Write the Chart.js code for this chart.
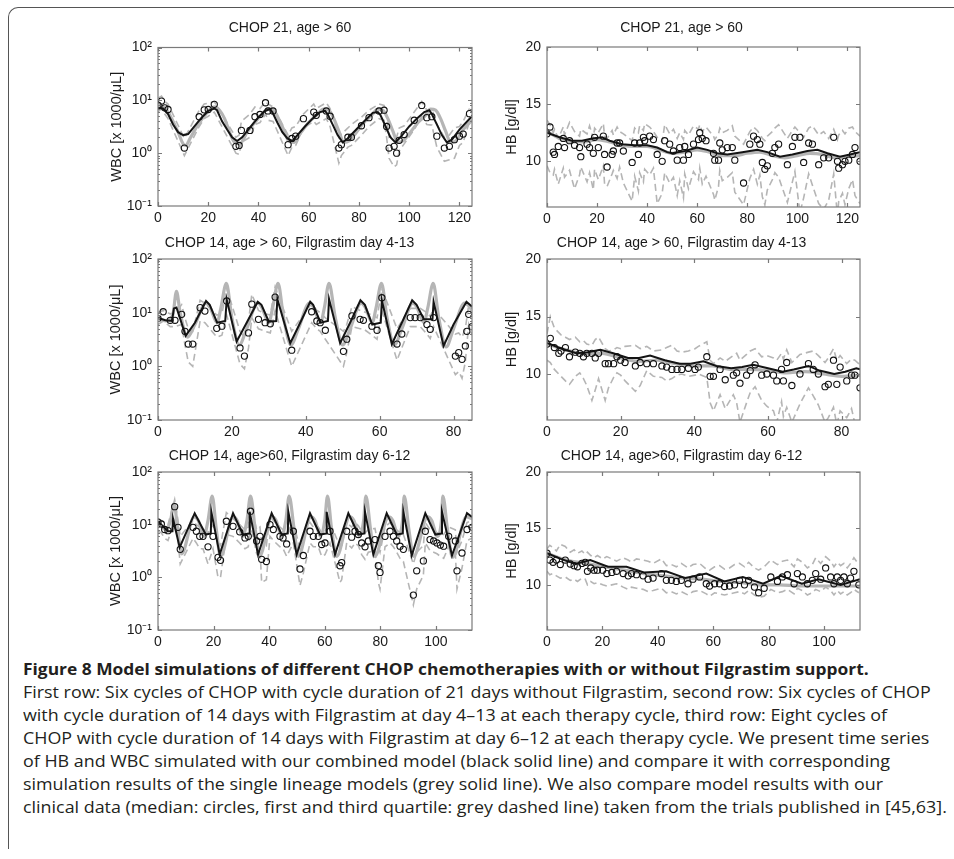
<!DOCTYPE html>
<html>
<head>
<meta charset="utf-8">
<script src="https://cdn.jsdelivr.net/npm/chart.js@4"></script>
<style>
  body { margin: 0; background: #fff; }
  #page { position: relative; width: 954px; height: 859px; overflow: hidden; background: #fff; }
  #frame { position: absolute; left: 8px; top: 7px; width: 1000px; height: 841px;
           border-left: 1.5px solid #555; border-top: 1.5px solid #555; border-top-left-radius: 10px; }
  canvas { position: absolute; }
  .cap { position: absolute; left: 23px; white-space: nowrap; font-family: "Open Sans", sans-serif;
         font-size: 16px; line-height: 20px; color: #231f20; transform-origin: 0 50%; }
  .cap.bold { font-weight: 700; }
</style>
</head>
<body>
<div id="page">
  <div id="frame"></div>
  <div class="cap bold" id="capTitle" style="top:659px">Figure 8 Model simulations of different CHOP chemotherapies with or without Filgrastim support.</div>
  <div class="cap" id="capFirst" style="top:682px">First row: Six cycles of CHOP with cycle duration of 21 days without Filgrastim, second row: Six cycles of CHOP</div>
  <div class="cap" style="top:705px">with cycle duration of 14 days with Filgrastim at day 4–13 at each therapy cycle, third row: Eight cycles of</div>
  <div class="cap" style="top:728px">CHOP with cycle duration of 14 days with Filgrastim at day 6–12 at each therapy cycle. We present time series</div>
  <div class="cap" style="top:751px">of HB and WBC simulated with our combined model (black solid line) and compare it with corresponding</div>
  <div class="cap" style="top:774px">simulation results of the single lineage models (grey solid line). We also compare model results with our</div>
  <div class="cap" id="capLast" style="top:797px">clinical data (median: circles, first and third quartile: grey dashed line) taken from the trials published in [45,63].</div>
</div>
<script>
// ---- Row 1 left: WBC, CHOP 21 ----
const aDays = [0,1.4,2.7,4,10.5,16.4,18.4,20,22.4,31,32.3,33.2,36.6,38.6,40.6,42.8,43.8,45.8,51.8,53.3,54.8,57.9,62,63,67,68.5,72,73,75.6,77,81,84,88,90,91,92,94,95,96,98,102,105,107,109,111,114,116,118,120,121.5,124];
const aMedian = [8.1,9.7,7.2,6.7,1.25,4.9,6.6,6.7,8.4,1.35,1.4,2.7,2.7,4.9,5.4,9.0,6.3,6.3,1.45,1.9,2.1,4.5,6.0,5.2,6.3,5.0,1.25,1.45,2.0,2.0,3.3,4.7,6.3,6.5,3.2,1.25,1.35,1.0,1.75,2.25,4.2,8.0,4.7,4.9,2.1,1.25,1.35,1.8,2.1,2.3,5.6];
const aQ3 = [11,12,9.5,8.5,1.9,6.5,8.5,8.8,9.5,2.0,2.2,4.0,5.5,7.5,7.0,9.5,8.5,7.5,2.2,3.0,3.2,5.5,8.5,7.0,9.0,7.0,2.0,2.3,3.0,3.5,4.8,6.5,8.5,8.0,5.0,2.0,2.2,2.0,3.0,3.3,6.0,9.5,6.5,7.0,3.5,2.0,2.2,3.0,3.2,4.0,7.0];
const aQ1 = [6.0,7.0,5.5,4.5,0.9,3.2,4.5,5.0,6.0,1.0,0.95,1.6,2.0,3.5,3.8,5.5,4.2,4.0,0.9,1.3,1.4,3.0,4.0,3.5,4.5,3.2,0.65,0.9,1.3,1.4,2.2,3.2,4.5,4.2,2.0,0.8,0.55,0.6,1.1,1.5,2.8,5.0,3.5,3.4,1.3,0.7,0.75,0.8,1.4,1.6,4.0];
const aModelDays = [0,2,4,6,8,10,12,14,17,20,22.4,23.5,25.5,27.5,29.5,31.5,33.5,36.5,39.5,42.5,44.5,45.5,47.5,49.5,51.5,53.5,55.5,58.5,61.5,64.5,66.5,67.5,69.5,71.5,73.5,75.5,79.5,82.5,85.5,87.5,88.5,90.5,92.5,94.5,96.5,100,103,106,108,109,111,113,115,117,120,125];
const aCombined = [7.2,7.0,5.5,3.5,2.5,2.2,2.3,3.0,4.5,6.3,7.0,6.5,4.0,2.8,2.0,1.7,2.0,3.0,4.5,6.3,6.8,6.0,3.8,2.5,1.9,1.7,2.2,3.2,4.5,6.0,6.3,5.5,3.5,2.2,1.6,1.9,3.0,4.2,5.8,6.0,5.3,3.3,2.0,1.6,2.0,3.2,4.5,6.0,6.5,5.5,3.5,2.2,1.6,1.8,2.8,5.0];
const aSingleDays = [0,2,4,6,8,10,11,13,16,19,22.5,24.5,26.5,28.5,30.5,32.5,35.5,38.5,41.5,44,46,48,50,52,54,57,60,63,66,68,70,72,74,76,79,82,85,87.5,89.5,91.5,93.5,95.5,97.5,100.5,103.5,106.5,108.5,110.5,112.5,114.5,116.5,118.5,121,125];
const aSingle = [8.0,7.5,6.0,4.0,2.5,1.5,1.4,2.0,3.5,5.5,7.5,6.5,4.5,2.5,1.6,1.5,2.5,3.8,5.5,7.0,6.5,4.5,2.8,1.7,1.6,2.5,3.8,5.2,6.8,6.5,4.5,2.6,1.6,1.7,2.5,3.8,5.2,6.8,6.5,4.5,2.6,1.6,1.7,2.5,3.8,5.2,6.8,6.5,4.5,2.6,1.6,1.7,2.6,4.2];

// ---- Row 1 right: HB, CHOP 21 ----
const bDays = [0,1.2,2.5,3,4.5,6.5,7,9,11,13,13.5,16,17,18.5,19,20.5,22.5,23,24,26,26.5,28,29,30.5,34,35,36.5,37,38.5,39,41,42.5,44,46,47,49,50.5,52,53,54.5,55,56.5,58.5,60.5,61,62,63.5,66.5,67,68.5,69,70,72,74,75,78.5,81,82.5,84,85,86,87,88,90,91,92.5,96,98,99,101,102.5,104.5,106,108.5,110.5,112.5,114.5,116,116.5,118,119,120.5,122,123,125];
const bMedian = [12.4,13.0,10.8,10.6,11.3,12.0,11.2,11.8,11.4,11.2,10.4,11.5,11.2,10.7,12.1,11.2,12.2,10.6,9.5,10.6,10.9,11.6,11.6,10.9,9.9,11.6,10.6,11.6,12.1,11.8,12.2,11.9,10.6,10.0,11.8,11.5,10.9,10.1,11.2,10.1,11.3,10.6,11.5,11.9,12.5,12.0,11.8,10.7,10.1,10.1,11.6,11.0,11.2,11.2,10.1,8.1,11.5,12.2,11.9,11.5,9.9,9.3,9.6,10.7,11.2,11.5,9.7,11.3,12.1,12.1,9.9,11.6,11.5,9.7,10.3,10.3,12.1,10.0,9.4,9.7,10.0,10.1,10.6,11.2,10.0];
const bQ3 = [13.6,13.2,12.5,12.8,12.0,13.0,12.3,13.4,12.6,12.2,12.8,12.4,13.1,12.0,12.9,12.5,13.3,12.2,12.0,12.7,12.3,13.0,12.6,12.4,11.8,12.9,12.5,13.1,12.7,13.3,13.0,12.6,12.1,11.7,13.2,12.4,12.8,12.0,12.5,11.9,12.7,12.3,13.1,12.8,13.2,12.6,13.0,12.2,11.9,12.4,12.9,12.5,12.7,13.1,12.2,11.5,12.6,13.0,12.7,12.4,12.0,11.8,12.2,12.6,12.9,13.2,12.0,12.7,13.0,12.5,12.1,12.9,13.1,12.3,12.6,12.0,12.8,11.9,12.3,12.7,12.4,12.9,13.0,12.6,12.2];
const bQ1 = [9.6,9.0,8.8,9.3,8.0,9.4,8.6,9.2,7.6,8.8,9.5,8.2,9.0,7.5,9.3,8.4,9.6,8.0,7.8,8.9,9.2,8.5,9.5,8.1,6.5,8.7,7.4,9.0,8.2,9.3,8.8,9.4,6.3,7.2,9.0,8.1,8.6,7.0,8.3,6.8,8.9,7.6,9.1,8.4,9.4,8.0,8.7,7.1,6.6,7.8,9.2,8.3,8.6,9.0,7.3,6.2,8.5,9.3,8.0,8.8,6.9,6.2,7.5,8.4,9.0,8.6,6.4,8.2,9.1,5.5,6.8,8.9,7.9,6.3,5.8,6.6,8.9,5.2,6.5,7.2,6.2,7.6,8.4,7.0,6.3];
const bModelDays = [0,5,10,14,18,22,25,30,35,40,44,48,50,55,60,64,68,72,78,84,88,93,98,104,108,112,117,121,125];
const bCombined = [12.5,12.1,11.8,11.8,12.0,12.1,11.8,11.5,11.4,11.4,11.2,10.8,10.7,10.9,11.2,11.0,10.7,10.6,10.8,11.0,10.8,10.4,10.6,10.9,11.0,10.7,10.4,10.6,10.8];
const bSingleDays = [0,5,10,15,20,25,30,35,40,45,50,55,60,65,70,75,80,85,90,95,100,105,110,115,120,125];
const bSingle = [12.6,12.0,11.7,11.7,11.9,11.7,11.4,11.3,11.3,11.0,10.7,10.8,11.0,10.8,10.5,10.5,10.7,10.8,10.5,10.3,10.5,10.7,10.6,10.3,10.4,10.5];

// ---- Row 2 left: WBC, CHOP 14, Filgrastim day 4-13 ----
const cDays = [0,1.4,3.3,4.6,6.4,7.3,8.2,9.4,11.4,12.7,15.9,17.3,18.6,22.2,23.4,24.5,25.4,27.2,29,30.4,31.7,36.2,41.6,43,43.9,45.3,50.2,51.1,52.5,54.7,55.6,57.9,59.3,60.6,64.7,66,68.3,69.6,71,72.8,73.7,74.6,80.5,81.4,82.3,83.2,83.6,84.1,85];
const cMedian = [7.8,10.4,7.2,7.2,9.3,4.5,2.6,2.6,12.4,10.7,5.1,5.6,16.5,2.2,1.55,4.2,14.4,7.5,6.5,6.2,19.5,2.0,10.4,7.0,6.5,4.7,1.9,3.2,8.7,7.5,7.2,5.6,4.7,19,2.6,4.0,8.1,8.1,8.1,6.0,4.9,8.1,1.55,1.8,1.35,2.4,4.5,9.3,5.5];
const cQ3 = [10,11,9.5,10,14,8,5,4.5,17,15,9,9.5,28,4.5,3.5,7,22,11,9.5,9,30,4.5,15,11,10,8,4.5,6,13,11,10.5,9,8,28,5,7,12,12,12,10,8.5,12,4,4.2,3.5,5,8,14,9];
const cQ1 = [6,7,5.5,5.5,6,2.5,1.2,1.0,7,6.5,3.5,3.8,9,1.1,0.9,2.2,8,5,4.5,4.2,11,1.0,6.5,5,4.5,3.2,1.0,1.8,5.5,5,5,3.8,3.2,11,1.3,2.2,5.5,5.5,5.5,4,3.3,5.5,0.7,0.8,0.6,1.2,2.5,6,3.8];
const cModelDays = [0,2,3.8,4.3,5,7.5,10,13,14,16,18.2,18.6,21.3,24,27,28,30,32,32.3,35.8,38.5,41.2,42,44,46,46.3,49.3,52,54.8,56,58,60.3,60.6,63.3,66,68.8,70,72,74.3,74.6,77.3,80,83.5,85];
const cCombined = [8,7.2,7.0,12,12.5,3.7,6.5,16.5,14,6.5,7,17.5,2.9,6.5,16,14,6.8,7,18,2.7,6.5,16,14,6.5,7,18,2.7,6.5,17,14,6,6.5,17,2.6,6.5,17,14,7.5,7.5,16,2.4,6,16,13];
const cSingleDays = [0,2,4,5,6,8,10,13,14,16,17,18.5,20,22,24,27,28,30,31,32.5,34,36,38,41,42,44,45,46.3,48,50,52,55,56,58,59,60.5,62,64,66,69,70,72,73,74.5,76,78,80,83,85];
const cSingle = [8,7,9,25,10,3.5,6,15,13,6.5,12,35,8,2.5,5,15,13,6.5,12,35,8,2.5,5,15,13,6.5,12,35,8,2.5,5,15,13,6.5,12,35,8,2.5,5,15,13,6.5,12,35,8,2.3,5,15,12];

// ---- Row 2 right: HB, CHOP 14, Filgrastim day 4-13 ----
const dDays = [0,0.9,2,3.2,3.8,5,6.1,7.7,8.9,9.9,10.8,12.2,13.1,14,15.8,16.7,18.1,19,20,21.2,24,25.3,27.1,28.9,31.2,32.5,33.9,35.3,36.6,38.4,40.2,41.1,43.4,44.3,45.2,47,48.4,50.6,51.5,52.4,54.2,55.2,56.5,58.3,59.7,61.5,62.4,63.7,64.2,65.1,66.5,68.7,71,72.3,73.7,75.5,76.4,77.8,78.7,79.6,81.4,82.7,83.6,85];
const dMedian = [12.6,13.1,12.3,11.8,12.0,12.3,11.5,11.9,11.8,11.5,11.8,11.8,11.4,11.8,10.9,10.9,10.9,11.5,11.2,11.0,10.7,11.0,10.9,10.9,10.7,10.6,10.4,10.4,10.4,10.5,10.4,10.6,11.5,9.8,9.8,10.4,9.5,9.9,10.1,9.2,9.9,10.3,10.8,9.9,10.0,9.9,9.4,10.4,9.4,11.0,9.0,10.0,10.9,10.4,10.0,8.9,9.1,11.2,9.1,10.6,9.4,9.9,9.9,8.8];
const dQ3 = [13.5,15.0,14.0,13.6,13.4,13.2,13.0,13.2,12.8,12.9,12.6,12.5,13.0,13.2,12.2,12.0,12.1,12.3,12.2,12.4,12.5,12.2,12.4,12.0,12.1,12.3,12.5,12.0,11.9,12.0,12.2,12.4,12.8,11.2,10.9,11.4,11.1,11.6,11.8,11.2,11.7,12.0,12.2,11.5,11.6,11.4,11.2,11.8,11.3,12.1,11.0,11.7,11.9,12.0,11.6,11.0,11.4,12.2,11.2,11.6,10.9,11.3,11.2,10.8];
const dQ1 = [11.2,11.0,10.4,10.0,9.8,9.4,9.1,9.8,10.1,9.6,9.0,7.7,8.6,9.6,7.7,8.8,9.7,10.1,9.9,9.4,8.5,9.0,10.3,9.8,9.7,9.4,9.6,9.9,10.0,9.8,9.9,10.0,9.7,7.5,6.8,8.2,7.0,8.2,7.5,5.8,7.5,8.4,8.9,7.7,7.2,6.8,5.8,7.6,6.3,7.1,5.8,7.4,8.8,8.1,7.3,5.8,6.2,7.1,5.6,6.8,6.2,7.0,5.7,5.9];
const dModelDays = [0,4,8,11,14.5,18,22,25,28,32,36,39,42.5,46,50,53,56,60,64,67,71,74,78,81,84,85];
const dCombined = [12.7,12.2,11.8,11.9,12.1,11.8,11.4,11.4,11.6,11.2,10.9,10.9,11.1,10.7,10.5,10.6,10.8,10.5,10.2,10.4,10.7,10.3,10.0,10.2,10.5,10.4];
const dSingleDays = [0,5,10,15,20,25,30,35,40,45,50,55,60,65,70,75,80,85];
const dSingle = [12.6,12.1,11.8,11.8,11.4,11.1,11.2,10.9,10.7,10.7,10.4,10.4,10.3,10.1,10.2,10.0,9.8,9.9];

// ---- Row 3 left: WBC, CHOP 14, Filgrastim day 6-12 ----
const eDays = [0,1.2,2.4,3.6,6,7.2,8,12.6,13.8,15,16.2,18,19.8,21.6,22.5,24.6,27,29.4,31.3,32.5,33.3,35.5,36.7,37.3,39,40.3,41.5,43.9,45,46.3,48.7,51.1,52.3,54.7,55.9,57.7,58.9,60.1,61.9,65.5,66.1,67.9,69.7,70.9,72.1,73.3,74.5,75.7,78.1,79.3,79.9,81.7,83.5,84.7,85.9,87.1,88.3,91.9,93.1,95.5,96.2,97.9,99.2,100.4,101.6,102.8,104.6,107,107.6,109.4,111.2,113];
const eMedian = [11.2,10.3,8.1,7.7,22,8.9,3.4,8.9,7.5,6.0,6.0,3.8,6.0,2.4,2.1,11.6,9.3,7.3,5.6,6.0,18,4.9,6.0,2.2,2.0,10,8.1,6.0,5.6,4.3,7.5,1.44,2.6,7.5,6.0,6.0,4.2,4.5,7.5,1.66,1.9,7.5,5.8,7.5,6.5,4.5,3.8,4.9,5.2,1.66,1.24,6.0,7.5,6.0,4.9,3.9,3.4,0.46,1.33,2.05,7.5,5.2,4.9,4.5,4.1,3.9,6.0,4.9,1.33,2.9,8.1,8.9];
const eQ3 = [13,12,11,10,30,12,6,12,10,9,8.5,7,10,4.5,4,17,13,10,8,9,25,8,9,4.5,4,15,12,9,8,7,11,3.5,5,11,9,9,7,7.5,11,3.8,4,11,9,11,9.5,7.5,7,8,8.5,3.8,3,9,11,9,8,7,6.5,1.8,3,4,11,8,8,7,7,6.5,9,8,3,5,11,12];
const eQ1 = [7.5,7,5.5,5,12,5,1.8,5.5,4.5,3.5,3.5,1.8,3.5,1.0,1.0,6.5,6,4.5,3.5,3.8,10,2.8,3.5,0.8,0.9,6,5,3.8,3.5,2.5,4.5,0.7,1.2,4.5,3.8,3.8,2.5,2.7,4.5,0.8,0.9,4.5,3.6,4.5,4,2.7,2.2,3,3.2,0.8,0.6,3.8,4.5,3.8,3,2.3,2,0.3,0.6,1.1,4.5,3.2,3,2.8,2.5,2.3,3.8,3,0.6,1.5,5,5.5];
const eModelDays = [0,3.6,5.2,5.4,7.8,13.2,17.2,19,19.2,22.2,27,30.6,32.8,33,36,40.9,44.5,46.7,46.9,49.9,54.7,58.3,60.5,60.7,63.7,68.5,72.1,74.3,74.5,77.5,82.3,85.9,88.1,88.3,91.3,96.2,99.8,102,102.2,105.8,111.2,113];
const eCombined = [11.5,7.5,7.5,13,3.7,16.5,6.5,6.8,17.5,2.7,16.5,6.5,6.8,17.5,2.7,16.5,6.5,6.8,17.5,2.7,16.5,6.5,6.8,17.5,2.7,16.5,6.5,6.8,17.5,2.7,16.5,6.5,6.8,17.5,2.6,16.5,6.5,6.8,17.5,2.6,16.5,14];
const eSingleDays = [0,3,4.5,5.8,7,8.5,13,14.5,16.5,18,19.5,21,22.5,27,28.5,30.5,32,33.3,35,36.5,41,42.5,44.5,46,47.2,49,50.5,55,56.5,58.5,60,61,62.5,64.3,69,70.5,72.5,74,74.8,76.5,78,83,84.5,86.5,88,88.6,90.3,92,97,98.5,100.5,102,102.5,104.2,106,111,113];
const eSingle = [11,8,12,25,9,2.8,14,12,6,12,35,8,2.5,14,12,6,12,35,8,2.5,14,12,6,12,35,8,2.5,14,12,6,12,35,8,2.5,14,12,6,12,35,8,2.5,14,12,6,12,35,8,2.5,14,12,6,12,35,8,2.4,14,13];

// ---- Row 3 right: HB, CHOP 14, Filgrastim day 6-12 ----
const fDays = [0,1,2.2,3.4,4.8,6.6,8.4,9.8,11,12.6,13.8,14.6,15.8,17,18.2,20.1,21.6,23.4,25.1,27.5,29.3,30.5,32.3,34.7,36.5,38.3,41.3,43.1,44.9,46.7,48.5,50.9,52.7,55.1,57.5,58.7,60.5,62.3,64.1,65.9,67.7,69.5,71.3,72.8,74.9,76.4,78.4,80.8,83.2,85,86.8,89.2,90.4,92.2,94,95.8,97,98.8,100.6,102.4,103.6,104.8,106,107.2,108.4,109.6,110.8,112.6];
const fMedian = [12.8,12.2,12.0,12.2,11.8,12.2,11.85,11.7,11.6,11.9,12.0,11.2,11.5,11.3,11.3,11.3,11.0,11.1,11.2,11.0,10.8,11.0,10.9,10.8,10.5,10.6,11.0,10.4,10.4,10.3,10.4,10.1,10.5,10.7,10.1,9.9,10.1,10.1,9.85,9.9,10.0,10.4,10.0,10.4,9.8,9.3,9.7,10.7,10.3,10.7,10.9,10.1,11.0,10.7,10.1,10.4,11.0,10.5,11.5,10.7,10.1,10.7,10.4,10.7,10.1,10.6,11.2,10.0];
const fQ3 = [13.2,13.5,13.3,13.0,13.6,13.4,12.9,13.1,12.8,13.0,12.7,12.9,12.6,12.4,12.6,12.3,12.5,12.3,12.1,12.4,12.2,12.0,12.3,12.2,12.1,11.9,12.3,11.7,11.8,11.6,11.9,11.5,11.8,11.9,11.4,11.3,11.6,11.7,11.4,11.5,11.8,11.9,11.6,12.0,11.5,11.3,11.6,12.2,11.8,12.1,12.2,11.6,12.3,12.0,11.5,11.8,12.4,11.9,12.5,12.1,11.6,12.0,11.7,11.9,11.5,11.9,12.4,11.8];
const fQ1 = [11.2,10.9,11.0,10.8,10.6,10.7,10.4,10.5,10.3,10.6,10.5,10.0,10.3,10.1,10.2,10.0,9.9,10.0,10.1,9.8,9.6,9.8,9.7,9.6,9.4,9.5,9.7,9.3,9.4,9.2,9.4,9.1,9.4,9.5,9.2,9.0,9.3,9.2,9.1,9.2,9.3,9.4,9.2,9.5,9.1,8.9,9.0,9.6,9.3,9.4,9.6,9.2,9.7,9.5,9.1,9.3,9.6,9.4,9.8,9.5,9.1,9.5,9.2,9.4,9.1,9.3,9.6,9.3];
const fModelDays = [0,5,10.2,15.6,22,28.7,35,43,50,57.5,64,70.7,78,84.4,92,98,106,113];
const fCombined = [12.8,12.3,11.85,12.2,11.6,11.6,11.1,11.2,10.6,11.0,10.3,10.7,10.1,10.8,10.1,10.5,10.0,10.5];
const fSingleDays = [0,7,14,21,28,35,42,49,56,63,70,77,84,91,98,105,113];
const fSingle = [12.8,12.2,11.9,11.6,11.3,11.0,10.8,10.6,10.5,10.3,10.2,10.0,10.0,9.9,9.9,9.9,9.9];

// axis ticks
const dayTicks21 = [0, 20, 40, 60, 80, 100, 120];
const dayTicks14a = [0, 20, 40, 60, 80];
const dayTicks14b = [0, 20, 40, 60, 80, 100];
const wbcTicks = [0.1, 1, 10, 100];
const wbcTickLabels = ['10⁻¹', '10⁰', '10¹', '10²'];
const hbTicks = [10, 15, 20];

const pts = (xs, ys) => xs.map((x, i) => ({ x, y: ys[i] }));

const panels = [
  { title: 'CHOP 21, age > 60', wbc: true, xMax: 125, xTicks: dayTicks21, box: [158, 47.5, 472, 206], titleY: 28, yTitleX: 117,
    days: aDays, median: aMedian, q1: aQ1, q3: aQ3, modelDays: aModelDays, combined: aCombined, singleDays: aSingleDays, single: aSingle },
  { title: 'CHOP 21, age > 60', wbc: false, xMax: 125, xTicks: dayTicks21, box: [547, 47, 860, 207], titleY: 28, yTitleX: 512,
    days: bDays, median: bMedian, q1: bQ1, q3: bQ3, modelDays: bModelDays, combined: bCombined, singleDays: bSingleDays, single: bSingle },
  { title: 'CHOP 14, age > 60, Filgrastim day 4-13', wbc: true, xMax: 85, xTicks: dayTicks14a, box: [158, 259, 472, 420], titleY: 243.5, yTitleX: 116,
    days: cDays, median: cMedian, q1: cQ1, q3: cQ3, modelDays: cModelDays, combined: cCombined, singleDays: cSingleDays, single: cSingle },
  { title: 'CHOP 14, age > 60, Filgrastim day 4-13', wbc: false, xMax: 85, xTicks: dayTicks14a, box: [547, 259, 860, 419.5], titleY: 243.5, yTitleX: 512,
    days: dDays, median: dMedian, q1: dQ1, q3: dQ3, modelDays: dModelDays, combined: dCombined, singleDays: dSingleDays, single: dSingle },
  { title: 'CHOP 14, age>60, Filgrastim day 6-12', wbc: true, xMax: 113, xTicks: dayTicks14b, box: [158, 472, 472, 630], titleY: 456.5, yTitleX: 116,
    days: eDays, median: eMedian, q1: eQ1, q3: eQ3, modelDays: eModelDays, combined: eCombined, singleDays: eSingleDays, single: eSingle },
  { title: 'CHOP 14, age>60, Filgrastim day 6-12', wbc: false, xMax: 113, xTicks: dayTicks14b, box: [547, 472, 860, 630], titleY: 456.5, yTitleX: 512,
    days: fDays, median: fMedian, q1: fQ1, q3: fQ3, modelDays: fModelDays, combined: fCombined, singleDays: fSingleDays, single: fSingle }
];

// matlab style box with inward ticks
const boxTicks = {
  id: 'boxTicks',
  afterDatasetsDraw(chart) {
    const { ctx, chartArea: a, scales: { x, y } } = chart;
    ctx.save();
    ctx.strokeStyle = '#7a7a7a';
    ctx.lineWidth = 1.2;
    ctx.strokeRect(a.left, a.top, a.right - a.left, a.bottom - a.top);
    ctx.beginPath();
    x.ticks.forEach(t => {
      const px = Math.round(x.getPixelForValue(t.value)) + 0.5;
      ctx.moveTo(px, a.bottom); ctx.lineTo(px, a.bottom - 4);
      ctx.moveTo(px, a.top); ctx.lineTo(px, a.top + 4);
    });
    y.ticks.forEach(t => {
      const py = Math.round(y.getPixelForValue(t.value)) + 0.5;
      ctx.moveTo(a.left, py); ctx.lineTo(a.left + 4, py);
      ctx.moveTo(a.right, py); ctx.lineTo(a.right - 4, py);
    });
    if (y.type === 'logarithmic') {
      [0.1, 1, 10].forEach(dec => {
        for (let m = 2; m <= 9; m++) {
          const py = Math.round(y.getPixelForValue(dec * m)) + 0.5;
          ctx.moveTo(a.left, py); ctx.lineTo(a.left + 2, py);
          ctx.moveTo(a.right, py); ctx.lineTo(a.right - 2, py);
        }
      });
    }
    ctx.stroke();
    ctx.restore();
  }
};

const axisFont = { family: '"Liberation Sans", Arial, sans-serif', size: 14 };
const page = document.getElementById('page');

function makePanel(p) {
  const [L, T, R, B] = p.box;
  const left = Math.round(p.yTitleX - 8.7);
  const yW = L - left;
  const top = Math.round(p.titleY - 8.4);
  const xH = 26;
  const w = (R - L) + 2 * yW;
  const h = Math.round(B + xH - top);

  const cv = document.createElement('canvas');
  cv.width = w; cv.height = h;
  cv.style.left = left + 'px'; cv.style.top = top + 'px';
  page.appendChild(cv);

  const yScale = p.wbc
    ? { type: 'logarithmic', min: 0.1, max: 100,
        afterBuildTicks: s => { s.ticks = wbcTicks.map(v => ({ value: v })); },
        ticks: { callback: (v) => wbcTickLabels[wbcTicks.indexOf(v)] } }
    : { type: 'linear', min: 6, max: 20,
        afterBuildTicks: s => { s.ticks = hbTicks.map(v => ({ value: v })); } };

  Object.assign(yScale, {
    grid: { display: false, drawTicks: false },
    border: { display: false },
    title: { display: true, text: p.wbc ? 'WBC [x 1000/μL]' : 'HB [g/dl]', color: '#1a1a1a',
             font: { family: '"Liberation Sans", Arial, sans-serif', size: 14.5 }, padding: 0 },
    afterFit: s => { s.width = yW; }
  });
  yScale.ticks = Object.assign({ color: '#1a1a1a', font: axisFont, padding: 6 }, yScale.ticks || {});

  new Chart(cv, {
    type: 'line',
    data: {
      datasets: [
        { label: 'Median', data: pts(p.days, p.median), showLine: false, pointRadius: 3.1,
          pointBorderColor: '#111', pointBackgroundColor: 'rgba(0,0,0,0)', pointBorderWidth: 1.1, order: 1 },
        { label: 'Combined model', data: pts(p.modelDays, p.combined), borderColor: '#141414', borderWidth: 2,
          pointRadius: 0, order: 2 },
        { label: 'Single lineage model', data: pts(p.singleDays, p.single), borderColor: '#b5b5b5', borderWidth: 3.2,
          pointRadius: 0, cubicInterpolationMode: 'monotone', order: 3 },
        { label: 'Third quartile', data: pts(p.days, p.q3), borderColor: '#b5b5b5', borderWidth: 1.6,
          borderDash: [7, 4], pointRadius: 0, order: 4 },
        { label: 'First quartile', data: pts(p.days, p.q1), borderColor: '#b5b5b5', borderWidth: 1.6,
          borderDash: [7, 4], pointRadius: 0, order: 4 }
      ]
    },
    options: {
      responsive: false,
      animation: false,
      events: [],
      layout: { padding: { left: 0, right: yW, top: 0, bottom: 0 } },
      plugins: {
        legend: { display: false },
        tooltip: { enabled: false },
        title: { display: true, text: p.title, color: '#1a1a1a',
                 font: { family: '"Liberation Sans", Arial, sans-serif', size: 14, weight: 'normal' },
                 padding: { top: 0, bottom: T - top - 16.8 } }
      },
      scales: {
        x: {
          type: 'linear', min: 0, max: p.xMax,
          grid: { display: false, drawTicks: false },
          border: { display: false },
          ticks: { color: '#1a1a1a', font: axisFont, padding: 4, maxRotation: 0, autoSkip: false },
          afterBuildTicks: s => { s.ticks = p.xTicks.map(v => ({ value: v })); },
          afterFit: s => { s.height = xH; }
        },
        y: yScale
      }
    },
    plugins: [boxTicks]
  });
}

panels.forEach(makePanel);

// fit caption: bold title to its own width, body lines share one scale so that none overflows
document.fonts.ready.then(() => {
  const title = document.getElementById('capTitle');
  title.style.transform = 'scaleX(' + ((869 - 23) / title.offsetWidth) + ')';
  const k = Math.min((945 - 23) / document.getElementById('capFirst').offsetWidth,
                     (947 - 23) / document.getElementById('capLast').offsetWidth);
  document.querySelectorAll('.cap:not(.bold)').forEach(el => {
    el.style.transform = 'scaleX(' + k + ')';
  });
});
</script>
</body>
</html>
